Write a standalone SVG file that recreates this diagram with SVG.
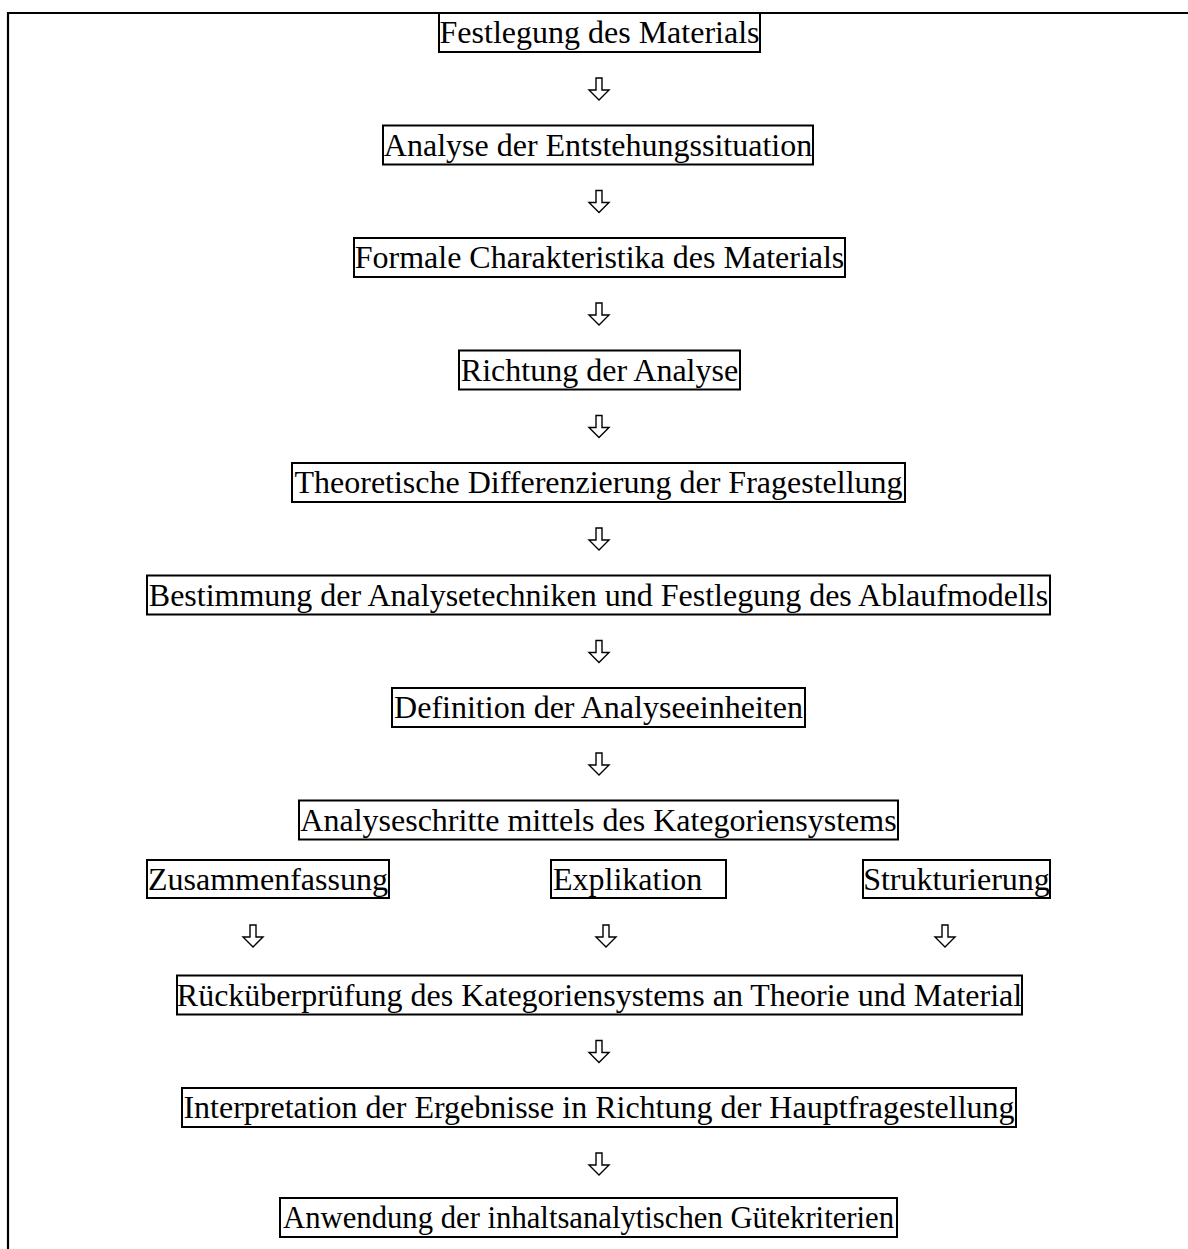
<svg xmlns="http://www.w3.org/2000/svg" xmlns:xlink="http://www.w3.org/1999/xlink" width="1188" height="1249" viewBox="0 0 1188 1249">
<style>
.box{fill:none;stroke:#000;stroke-width:2}
.lbl{font-family:"Liberation Serif","Times New Roman",serif;font-size:32px;fill:#000;text-anchor:middle}
.lbls{font-family:"Liberation Serif","Times New Roman",serif;font-size:32px;fill:#000;text-anchor:start}
.frame{fill:none;stroke:#000;stroke-width:2.2}
.arr{fill:#fff;stroke:#000;stroke-width:1.4;stroke-linejoin:miter}
</style>
<defs>
<path id="dn" class="arr" d="M-3,0 H3 V12 H10 L0,22 L-10,12 H-3 Z"/>
</defs>
<rect width="1188" height="1249" fill="#fff"/>
<g id="frame"><path class="frame" d="M8,1249 V13 H1188"/></g>

<g id="n1"><rect class="box" x="439" y="13" width="321" height="39"/><text class="lbl" x="599.5" y="43">Festlegung des Materials</text></g>
<g id="n2"><rect class="box" x="383" y="125.5" width="430" height="39"/><text class="lbl" x="598" y="155.5">Analyse der Entstehungssituation</text></g>
<g id="n3"><rect class="box" x="354" y="238" width="491" height="39"/><text class="lbl" x="599.5" y="268">Formale Charakteristika des Materials</text></g>
<g id="n4"><rect class="box" x="459" y="350.5" width="281" height="39"/><text class="lbl" x="599.5" y="380.5">Richtung der Analyse</text></g>
<g id="n5"><rect class="box" x="292" y="463" width="613" height="39"/><text class="lbl" x="598.5" y="493">Theoretische Differenzierung der Fragestellung</text></g>
<g id="n6"><rect class="box" x="147" y="575.5" width="903" height="39"/><text class="lbl" x="598.5" y="605.5">Bestimmung der Analysetechniken und Festlegung des Ablaufmodells</text></g>
<g id="n7"><rect class="box" x="392" y="688" width="413" height="39"/><text class="lbl" x="598.5" y="718">Definition der Analyseeinheiten</text></g>
<g id="n8"><rect class="box" x="299" y="800.5" width="599" height="39"/><text class="lbl" x="598.5" y="830.5">Analyseschritte mittels des Kategoriensystems</text></g>
<g id="n9a"><rect class="box" x="147" y="860" width="242" height="38"/><text class="lbl" x="268" y="890">Zusammenfassung</text></g>
<g id="n9b"><rect class="box" x="551" y="860" width="175" height="38"/><text class="lbls" x="553" y="890">Explikation</text></g>
<g id="n9c"><rect class="box" x="863" y="860" width="187" height="38"/><text class="lbl" x="956.5" y="890">Strukturierung</text></g>
<g id="n10"><rect class="box" x="177" y="975.5" width="845" height="39"/><text class="lbl" x="599.5" y="1005.5">Rücküberprüfung des Kategoriensystems an Theorie und Material</text></g>
<g id="n11"><rect class="box" x="182" y="1088" width="834" height="39"/><text class="lbl" x="599" y="1118">Interpretation der Ergebnisse in Richtung der Hauptfragestellung</text></g>
<g id="n12"><rect class="box" x="280" y="1198" width="617" height="39"/><text class="lbl" x="588.5" y="1228" textLength="611" lengthAdjust="spacingAndGlyphs">Anwendung der inhaltsanalytischen Gütekriterien</text></g>

<g id="connectors">
<use xlink:href="#dn" x="599" y="78"/>
<use xlink:href="#dn" x="599" y="190.5"/>
<use xlink:href="#dn" x="599" y="303"/>
<use xlink:href="#dn" x="599" y="415.5"/>
<use xlink:href="#dn" x="599" y="528"/>
<use xlink:href="#dn" x="599" y="640.5"/>
<use xlink:href="#dn" x="599" y="753"/>
<use xlink:href="#dn" x="253" y="925"/>
<use xlink:href="#dn" x="606" y="925"/>
<use xlink:href="#dn" x="945" y="925"/>
<use xlink:href="#dn" x="599" y="1040.5"/>
<use xlink:href="#dn" x="599" y="1153"/>
</g>
</svg>
